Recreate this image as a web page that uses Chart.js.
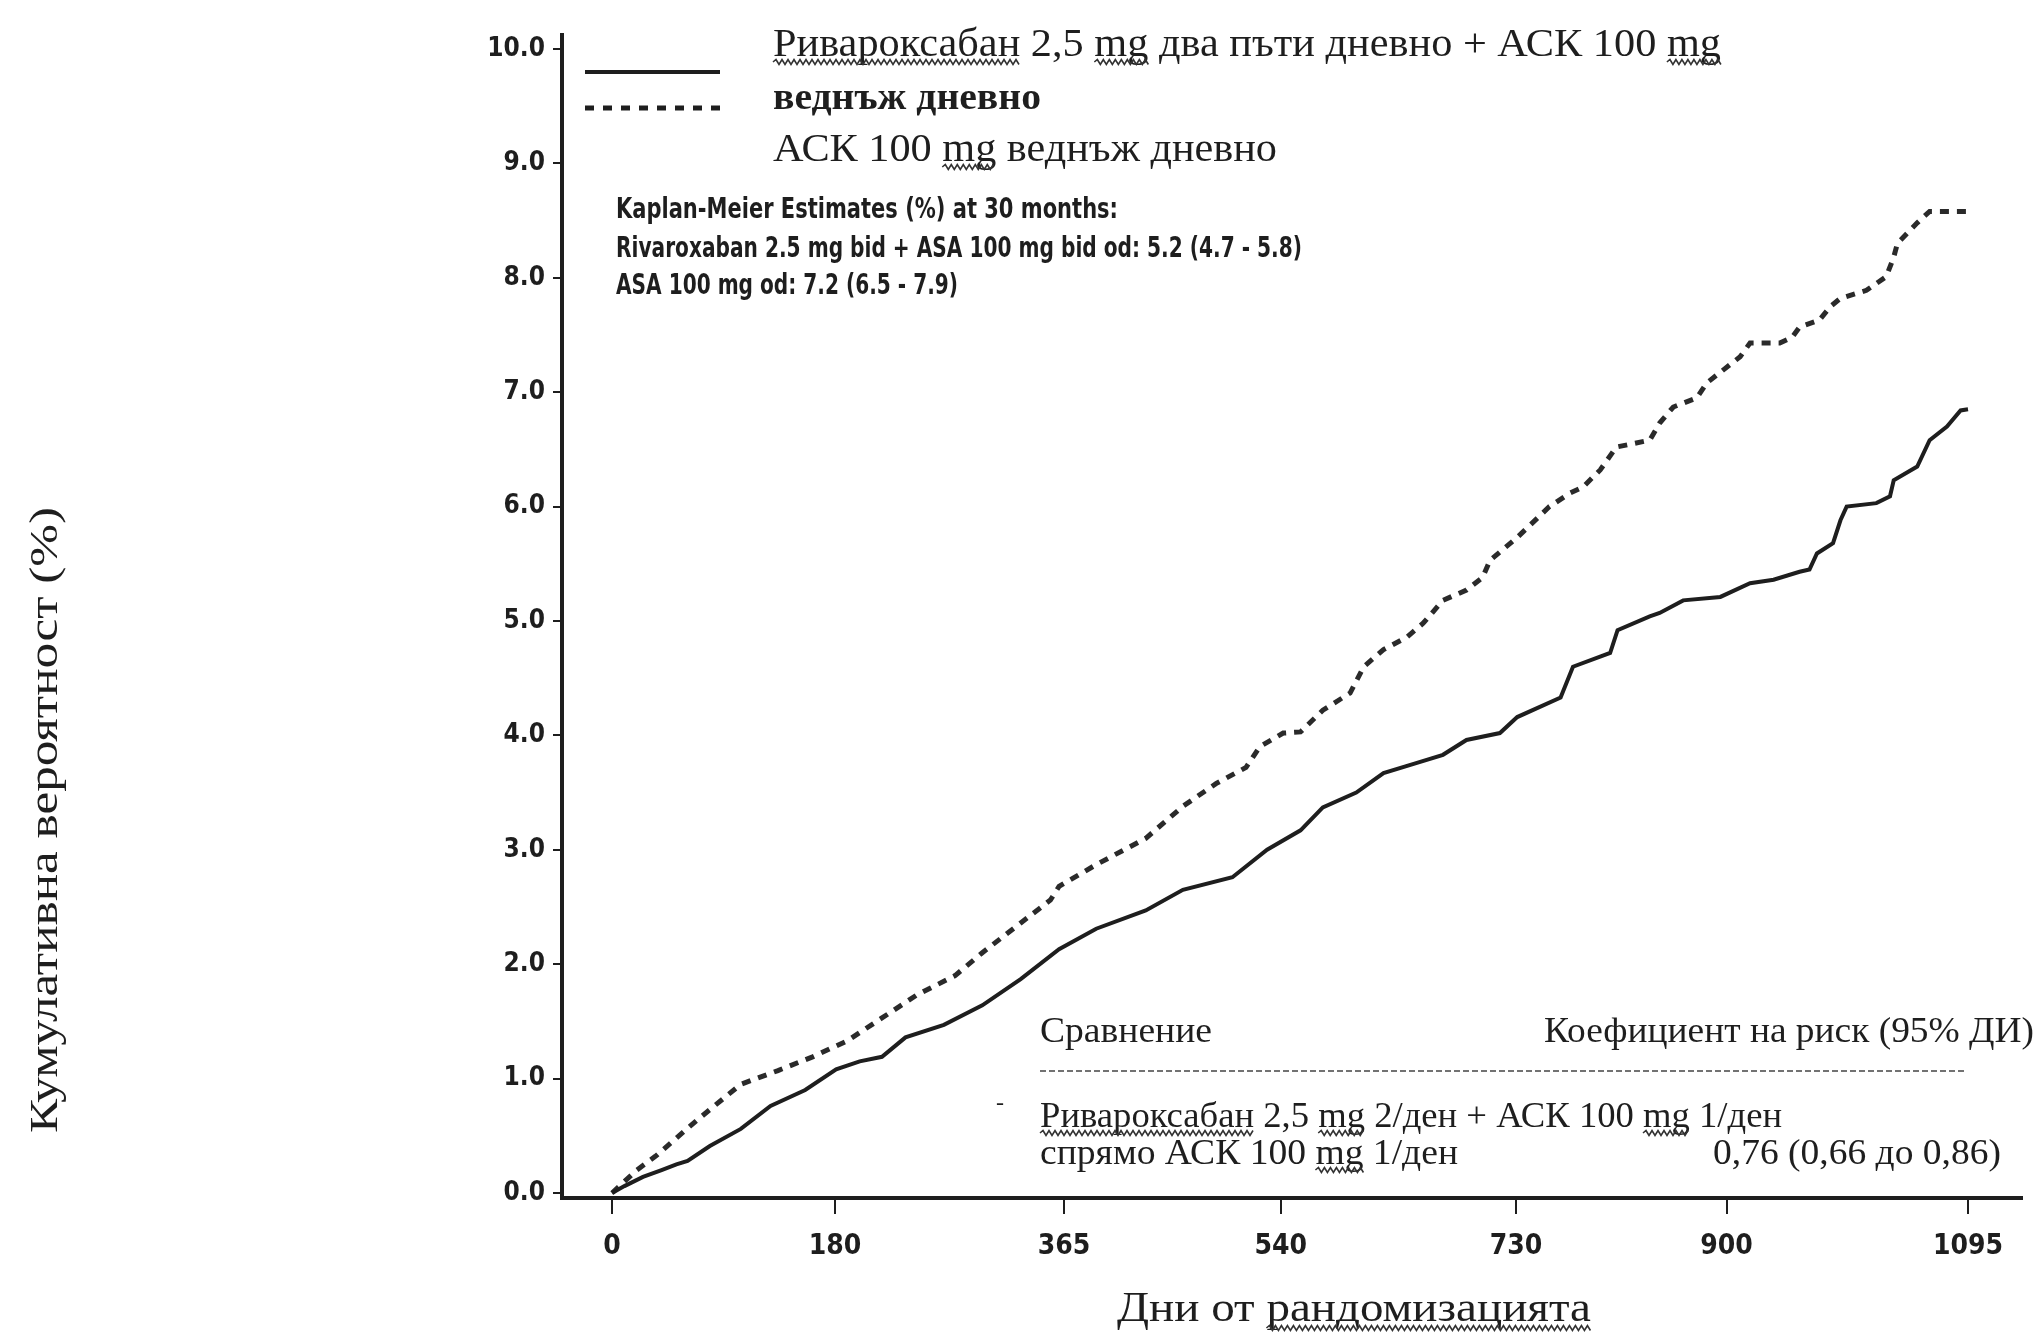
<!DOCTYPE html>
<html>
<head>
<meta charset="utf-8">
<script src="https://cdn.jsdelivr.net/npm/chart.js@4/dist/chart.umd.min.js"></script>
<style>
  html, body { margin: 0; padding: 0; background: #fff; }
  #wrap { width: 2042px; height: 1334px; }
</style>
</head>
<body>
<div id="wrap"><canvas id="kmChart" width="2042" height="1334"></canvas></div>
<script>
// Rivaroxaban 2.5 mg bid + ASA 100 mg od (solid)
const rivaDays = [0, 10, 25, 40, 52, 61, 79, 104, 128, 156, 181, 200, 218, 237, 268, 299, 330, 361, 391, 431,
    461, 501, 529, 556, 574, 601, 623, 650, 671, 690, 717, 731, 766, 776, 806, 812, 838, 846, 865, 895,
    919, 938, 959, 967, 973, 986, 992, 997, 1021, 1032, 1035, 1054, 1064, 1078, 1089, 1095];
const rivaPct = [0, 0.06, 0.14, 0.2, 0.25, 0.28, 0.41, 0.56, 0.76, 0.90, 1.08, 1.15, 1.19, 1.36, 1.47, 1.64, 1.87, 2.13, 2.31, 2.47,
    2.65, 2.76, 3.0, 3.17, 3.37, 3.50, 3.67, 3.76, 3.83, 3.96, 4.02, 4.16, 4.33, 4.60, 4.72, 4.92, 5.04, 5.07, 5.18, 5.21,
    5.33, 5.36, 5.43, 5.45, 5.59, 5.68, 5.88, 6.00, 6.03, 6.09, 6.23, 6.35, 6.58, 6.70, 6.84, 6.85];

// ASA 100 mg od (dashed)
const asaDays = [0, 10, 20, 35, 69, 104, 134, 162, 190, 218, 246, 277, 299, 330, 354, 361, 391, 431, 461, 488,
    512, 523, 542, 556, 574, 596, 607, 623, 642, 655, 671, 690, 703, 709, 731, 757, 774, 784, 798, 811,
    838, 846, 857, 876, 884, 911, 919, 943, 953, 959, 975, 984, 992, 1013, 1029, 1035, 1038, 1054, 1064, 1094];
const asaPct = [0, 0.1, 0.2, 0.32, 0.64, 0.95, 1.07, 1.19, 1.33, 1.53, 1.73, 1.90, 2.10, 2.36, 2.56, 2.68, 2.87, 3.10, 3.38, 3.58,
    3.72, 3.90, 4.02, 4.03, 4.22, 4.37, 4.60, 4.75, 4.86, 4.98, 5.18, 5.27, 5.38, 5.53, 5.73, 6.00, 6.12, 6.17, 6.32, 6.52,
    6.58, 6.73, 6.87, 6.95, 7.08, 7.31, 7.43, 7.43, 7.48, 7.57, 7.63, 7.75, 7.82, 7.89, 8.01, 8.18, 8.30, 8.48, 8.58, 8.58];

const xTicks = [0, 180, 365, 540, 730, 900, 1095];
const yTicks = [0, 1, 2, 3, 4, 5, 6, 7, 8, 9, 10];

const SERIF = '"Liberation Serif", "DejaVu Serif", serif';
const NARROW = '"Liberation Sans Narrow", "DejaVu Sans Condensed", sans-serif';
const INK = '#1e1e1e';

// draw text squeezed/stretched to a given width
function fitText(ctx, text, x, y, w, font, align) {
    ctx.save();
    ctx.font = font;
    ctx.textBaseline = 'middle';
    ctx.textAlign = 'left';
    const m = ctx.measureText(text).width;
    const sx = w / m;
    ctx.translate(x, y);
    ctx.scale(sx, 1);
    ctx.fillText(text, align === 'right' ? -m : 0, 0);
    ctx.restore();
    return sx;
}

// wavy spell-check underline under parts of a fitted string
function squiggle(ctx, text, parts, x, y, w, font, dy, align) {
    ctx.save();
    ctx.font = font;
    const m = ctx.measureText(text).width;
    const sx = w / m;
    const left = align === 'right' ? x - w : x;
    ctx.strokeStyle = '#333';
    ctx.lineWidth = 1.6;
    let from = 0;
    parts.forEach(part => {
        const idx = text.indexOf(part, from);
        from = idx + part.length;
        const x0 = left + ctx.measureText(text.slice(0, idx)).width * sx;
        const x1 = x0 + ctx.measureText(part).width * sx;
        ctx.beginPath();
        let up = true;
        ctx.moveTo(x0, y + dy);
        for (let px = x0 + 3; px <= x1; px += 3) {
            ctx.lineTo(px, y + dy + (up ? -2.5 : 2.5));
            up = !up;
        }
        ctx.stroke();
    });
    ctx.restore();
}

const annotations = {
    id: 'annotations',
    afterDraw(chart) {
        const ctx = chart.ctx;
        ctx.save();
        ctx.fillStyle = INK;

        // legend samples
        ctx.strokeStyle = INK;
        ctx.lineWidth = 4;
        ctx.beginPath(); ctx.moveTo(585, 72); ctx.lineTo(720, 72); ctx.stroke();
        ctx.setLineDash([9, 9]);
        ctx.lineWidth = 5;
        ctx.beginPath(); ctx.moveTo(585, 108); ctx.lineTo(720, 108); ctx.stroke();
        ctx.setLineDash([]);

        const f40 = '40px ' + SERIF;
        const l1 = 'Ривароксабан 2,5 mg два пъти дневно + АСК 100 mg';
        fitText(ctx, l1, 773, 45, 948, f40);
        squiggle(ctx, l1, ['Ривароксабан', 'mg', 'mg'], 773, 45, 948, f40, 17);
        fitText(ctx, 'веднъж дневно', 773, 99, 268, 'bold 38px ' + SERIF);
        const l3 = 'АСК 100 mg веднъж дневно';
        fitText(ctx, l3, 773, 150, 504, f40);
        squiggle(ctx, l3, ['mg'], 773, 150, 504, f40, 17);

        // Kaplan-Meier estimates
        const fk = 'bold 28px ' + NARROW;
        fitText(ctx, 'Kaplan-Meier Estimates (%) at 30 months:', 616, 211, 502, fk);
        fitText(ctx, 'Rivaroxaban 2.5 mg bid + ASA 100 mg bid od: 5.2 (4.7 - 5.8)', 616, 250, 686, fk);
        fitText(ctx, 'ASA 100 mg od: 7.2 (6.5 - 7.9)', 616, 287, 342, fk);

        // hazard ratio table
        const ft = '36px ' + SERIF;
        fitText(ctx, 'Сравнение', 1040, 1033, 172, ft);
        fitText(ctx, 'Коефициент на риск (95% ДИ)', 2034, 1033, 490, ft, 'right');
        ctx.strokeStyle = '#444';
        ctx.lineWidth = 1.5;
        ctx.setLineDash([6, 3]);
        ctx.beginPath(); ctx.moveTo(1040, 1071); ctx.lineTo(1964, 1071); ctx.stroke();
        ctx.setLineDash([]);
        const h1 = 'Ривароксабан 2,5 mg 2/ден + АСК 100 mg 1/ден';
        fitText(ctx, h1, 1040, 1118, 742, ft);
        squiggle(ctx, h1, ['Ривароксабан', 'mg', 'mg'], 1040, 1118, 742, ft, 15);
        const h2 = 'спрямо АСК 100 mg 1/ден';
        fitText(ctx, h2, 1040, 1155, 418, ft);
        squiggle(ctx, h2, ['mg'], 1040, 1155, 418, ft, 15);
        fitText(ctx, '0,76 (0,66 до 0,86)', 2001, 1155, 288, ft, 'right');
        fitText(ctx, '-', 996, 1104, 8, '24px ' + SERIF);

        // axis titles
        const fx = '42px ' + SERIF;
        const xt = 'Дни от рандомизацията';
        fitText(ctx, xt, 1117, 1310, 474, fx);
        squiggle(ctx, xt, ['рандомизацията'], 1117, 1310, 474, fx, 18);
        ctx.save();
        ctx.translate(46, 820);
        ctx.rotate(-Math.PI / 2);
        fitText(ctx, 'Кумулативна вероятност (%)', -313, 0, 626, '40px ' + SERIF);
        ctx.restore();

        ctx.restore();
    }
};

const ctx = document.getElementById('kmChart').getContext('2d');
new Chart(ctx, {
    type: 'line',
    data: {
        datasets: [
            {
                label: 'Ривароксабан 2,5 mg два пъти дневно + АСК 100 mg веднъж дневно',
                data: rivaDays.map((d, i) => ({ x: d, y: rivaPct[i] })),
                borderColor: INK,
                borderWidth: 4,
                pointRadius: 0,
                tension: 0
            },
            {
                label: 'АСК 100 mg веднъж дневно',
                data: asaDays.map((d, i) => ({ x: d, y: asaPct[i] })),
                borderColor: '#2a2a2a',
                borderWidth: 5,
                borderDash: [9, 8],
                pointRadius: 0,
                tension: 0
            }
        ]
    },
    options: {
        responsive: false,
        animation: false,
        devicePixelRatio: 1,
        layout: { padding: { top: 35, right: 20, left: 0, bottom: 0 } },
        plugins: {
            legend: { display: false },
            tooltip: { enabled: false }
        },
        scales: {
            x: {
                type: 'linear',
                min: -40.4,
                max: 1138.6,
                afterBuildTicks: (s) => { s.ticks = xTicks.map(v => ({ value: v })); },
                afterFit: (s) => { s.height = 136; },
                border: { display: true, color: INK, width: 4 },
                grid: { display: true, drawOnChartArea: false, drawTicks: true, tickLength: 16, color: INK, lineWidth: 2 },
                ticks: {
                    color: INK,
                    padding: 16,
                    font: { family: NARROW, size: 28, weight: 'bold' },
                    callback: (v) => String(v)
                }
            },
            y: {
                type: 'linear',
                min: -0.044,
                max: 10.122,
                afterBuildTicks: (s) => { s.ticks = yTicks.map(v => ({ value: v })); },
                afterFit: (s) => { s.width = 562; },
                border: { display: true, color: INK, width: 4 },
                grid: { display: true, drawOnChartArea: false, drawTicks: true, tickLength: 9, color: INK, lineWidth: 2 },
                ticks: {
                    color: INK,
                    padding: 8,
                    font: { family: NARROW, size: 26, weight: 'bold' },
                    callback: (v) => v.toFixed(1)
                }
            }
        }
    },
    plugins: [annotations]
});
</script>
</body>
</html>
